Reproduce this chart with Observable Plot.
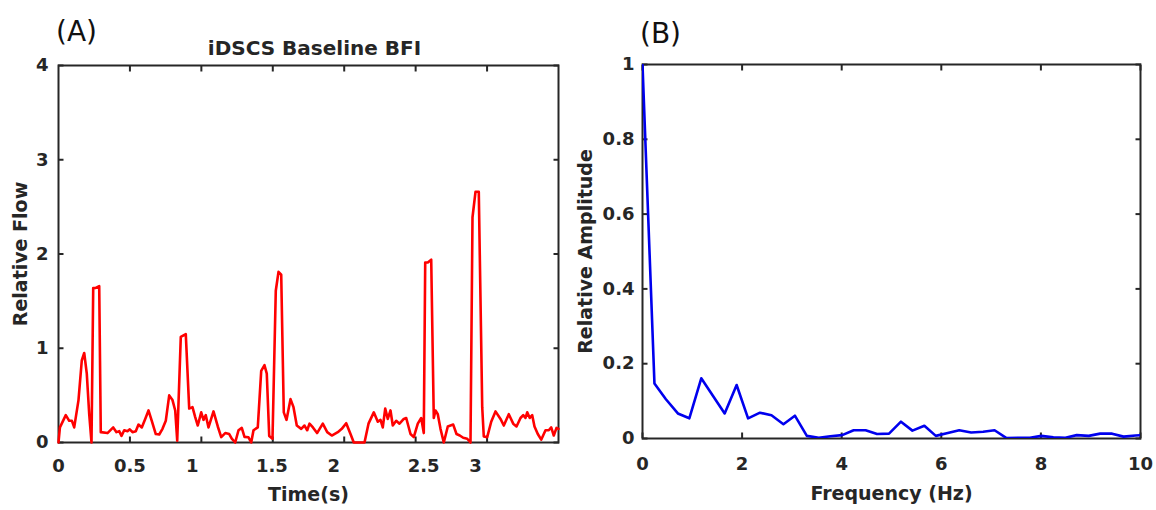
<!DOCTYPE html>
<html><head><meta charset="utf-8">
<script src="https://cdn.jsdelivr.net/npm/d3@7"></script>
<script src="https://cdn.jsdelivr.net/npm/@observablehq/plot@0.6"></script>
<style>
html,body{margin:0;padding:0;background:#fff;}
#wrap{position:relative;width:1156px;height:510px;overflow:hidden;background:#fff;}
#a{position:absolute;left:0;top:0;}
#b{position:absolute;left:570px;top:0;}
</style></head><body><div id="wrap"><div id="a"></div><div id="b"></div></div>
<script>
// ---- Panel A: iDSCS baseline BFI (time series) ----
const timeS = [0.000,0.010,0.051,0.075,0.094,0.110,0.140,0.163,0.180,0.198,0.215,0.231,0.243,0.261,0.285,0.296,0.343,0.383,0.406,0.425,0.441,0.460,0.483,0.499,0.518,0.541,0.560,0.583,0.607,0.630,0.653,0.681,0.705,0.728,0.751,0.775,0.798,0.817,0.831,0.856,0.891,0.915,0.938,0.957,0.975,0.999,1.015,1.031,1.050,1.085,1.115,1.139,1.167,1.195,1.213,1.237,1.260,1.283,1.302,1.330,1.349,1.365,1.395,1.419,1.442,1.458,1.475,1.498,1.521,1.540,1.559,1.577,1.596,1.624,1.645,1.668,1.699,1.722,1.741,1.757,1.781,1.810,1.850,1.881,1.913,1.955,1.983,2.014,2.044,2.067,2.142,2.170,2.207,2.235,2.254,2.270,2.287,2.305,2.324,2.340,2.364,2.387,2.417,2.434,2.464,2.487,2.515,2.539,2.557,2.567,2.585,2.609,2.627,2.639,2.655,2.674,2.697,2.725,2.763,2.786,2.809,2.833,2.861,2.884,2.898,2.919,2.942,2.966,2.977,3.001,3.029,3.059,3.094,3.117,3.152,3.183,3.206,3.234,3.253,3.269,3.281,3.299,3.316,3.332,3.355,3.379,3.409,3.432,3.449,3.467,3.486,3.500];
const flowRel = [0.00,0.16,0.29,0.23,0.23,0.16,0.45,0.87,0.95,0.73,0.30,0.00,1.64,1.64,1.66,0.11,0.10,0.16,0.11,0.12,0.07,0.13,0.12,0.14,0.11,0.12,0.19,0.16,0.25,0.34,0.23,0.09,0.085,0.145,0.23,0.50,0.45,0.34,0.02,1.12,1.15,0.36,0.375,0.27,0.18,0.32,0.24,0.29,0.16,0.33,0.17,0.057,0.10,0.09,0.04,0.00,0.13,0.155,0.06,0.055,0.00,0.13,0.16,0.76,0.82,0.73,0.07,0.04,1.61,1.81,1.78,0.32,0.24,0.46,0.375,0.18,0.145,0.18,0.13,0.20,0.16,0.10,0.20,0.11,0.074,0.11,0.145,0.205,0.09,0.00,0.00,0.20,0.32,0.22,0.24,0.16,0.36,0.25,0.34,0.18,0.23,0.20,0.25,0.26,0.09,0.057,0.20,0.26,0.10,1.91,1.91,1.94,0.26,0.34,0.30,0.145,0.00,0.17,0.19,0.09,0.074,0.05,0.04,0.00,2.39,2.66,2.66,0.375,0.064,0.057,0.22,0.33,0.25,0.18,0.30,0.20,0.17,0.26,0.29,0.26,0.32,0.26,0.29,0.17,0.09,0.03,0.13,0.13,0.16,0.074,0.155,0.145];
const timeTicks = [0.5, 1, 1.5, 2, 2.5, 3];
const timeTickLabelPos = [0, 0.5, 0.937, 1.494, 1.926, 2.556, 2.919];
const timeTickLabels = ["0", "0.5", "1", "1.5", "2", "2.5", "3"];
const flowTicks = [0, 1, 2, 3, 4];

// ---- Panel B: spectrum ----
const freqHz = [0,0.24,0.47,0.71,0.94,1.18,1.41,1.65,1.89,2.12,2.36,2.59,2.83,3.06,3.30,3.54,3.77,4.01,4.24,4.48,4.71,4.95,5.19,5.42,5.66,5.89,6.13,6.36,6.60,6.84,7.07,7.31,7.54,7.78,8.01,8.25,8.49,8.72,8.96,9.19,9.43,9.66,9.90,10.13];
const ampRel = [1.0,0.147,0.105,0.067,0.054,0.161,0.115,0.067,0.143,0.054,0.069,0.062,0.038,0.061,0.007,0.002,0.006,0.009,0.022,0.022,0.012,0.013,0.045,0.021,0.034,0.007,0.015,0.022,0.016,0.018,0.022,0.001,0.002,0.002,0.007,0.003,0.002,0.009,0.007,0.013,0.013,0.005,0.008,0.010];
const freqTicks = [0, 2, 4, 6, 8, 10];
const ampTicks = [0, 0.2, 0.4, 0.6, 0.8, 1];

const INK = "#262626";
const FONT = "DejaVu Sans";
const tickMarkOpts = {tickSize: -5.5, strokeWidth: 2, stroke: INK, text: null, label: null};
const labelOpts = {tickSize: 0, fontSize: 18, fontWeight: "bold", fill: INK, label: null};
const txt = {text: d => d, textAnchor: "middle", lineAnchor: "middle"};

const panelA = Plot.plot({
  width: 570, height: 510,
  marginLeft: 58, marginRight: 12, marginTop: 65, marginBottom: 68,
  style: {fontFamily: FONT, background: "white", overflow: "visible", color: INK},
  x: {domain: [0, 3.5]},
  y: {domain: [0, 4]},
  marks: [
    Plot.frame({stroke: INK, strokeWidth: 2}),
    Plot.axisX({anchor: "bottom", ticks: timeTicks, ...tickMarkOpts}),
    Plot.axisX({anchor: "top", ticks: timeTicks, ...tickMarkOpts}),
    Plot.axisY({anchor: "left", ticks: flowTicks, ...tickMarkOpts}),
    Plot.axisY({anchor: "right", ticks: flowTicks, ...tickMarkOpts}),
    Plot.axisX({anchor: "bottom", ticks: timeTickLabelPos, tickPadding: 17,
      tickFormat: d => timeTickLabels[timeTickLabelPos.indexOf(d)], ...labelOpts}),
    Plot.axisY({anchor: "left", ticks: flowTicks, tickPadding: 10, tickFormat: d => String(d), ...labelOpts}),
    Plot.line(timeS.map((t, i) => ({t, v: flowRel[i]})), {x: "t", y: "v", stroke: "#ff0000", strokeWidth: 2.6, strokeLinejoin: "round"}),
    Plot.text(["iDSCS Baseline BFI"], {...txt, frameAnchor: "top", dx: 6, dy: -17, fontSize: 20, fontWeight: "bold", fill: INK}),
    Plot.text(["(A)"], {...txt, frameAnchor: "top-left", dx: 18, dy: -33, fontSize: 28, fill: "#111"}),
    Plot.text(["Time(s)"], {...txt, frameAnchor: "bottom", dy: 52, fontSize: 19, fontWeight: "bold", fill: INK}),
    Plot.text(["Relative Flow"], {...txt, frameAnchor: "left", dx: -38, rotate: -90, fontSize: 19, fontWeight: "bold", fill: INK})
  ]
});
document.getElementById("a").append(panelA);

const panelB = Plot.plot({
  width: 586, height: 510,
  marginLeft: 72, marginRight: 16, marginTop: 64, marginBottom: 72,
  style: {fontFamily: FONT, background: "white", overflow: "visible", color: INK},
  x: {domain: [0, 10]},
  y: {domain: [0, 1]},
  marks: [
    Plot.frame({stroke: INK, strokeWidth: 2}),
    Plot.axisX({anchor: "bottom", ticks: freqTicks, ...tickMarkOpts}),
    Plot.axisX({anchor: "top", ticks: freqTicks, ...tickMarkOpts}),
    Plot.axisY({anchor: "left", ticks: ampTicks, ...tickMarkOpts}),
    Plot.axisY({anchor: "right", ticks: ampTicks, ...tickMarkOpts}),
    Plot.axisX({anchor: "bottom", ticks: freqTicks, tickPadding: 19, tickFormat: d => String(d), ...labelOpts}),
    Plot.axisY({anchor: "left", ticks: ampTicks, tickPadding: 8, tickFormat: d => String(d), ...labelOpts}),
    Plot.line(freqHz.map((f, i) => ({f, a: ampRel[i]})), {x: "f", y: "a", stroke: "#0000ee", strokeWidth: 2.6, strokeLinejoin: "round", clip: true}),
    Plot.text(["(B)"], {...txt, frameAnchor: "top-left", dx: 18, dy: -30, fontSize: 28, fill: "#111"}),
    Plot.text(["Frequency (Hz)"], {...txt, frameAnchor: "bottom", dy: 55, fontSize: 19, fontWeight: "bold", fill: INK}),
    Plot.text(["Relative Amplitude"], {...txt, frameAnchor: "left", dx: -57, rotate: -90, fontSize: 19, fontWeight: "bold", fill: INK})
  ]
});
document.getElementById("b").append(panelB);
</script>
</body></html>
